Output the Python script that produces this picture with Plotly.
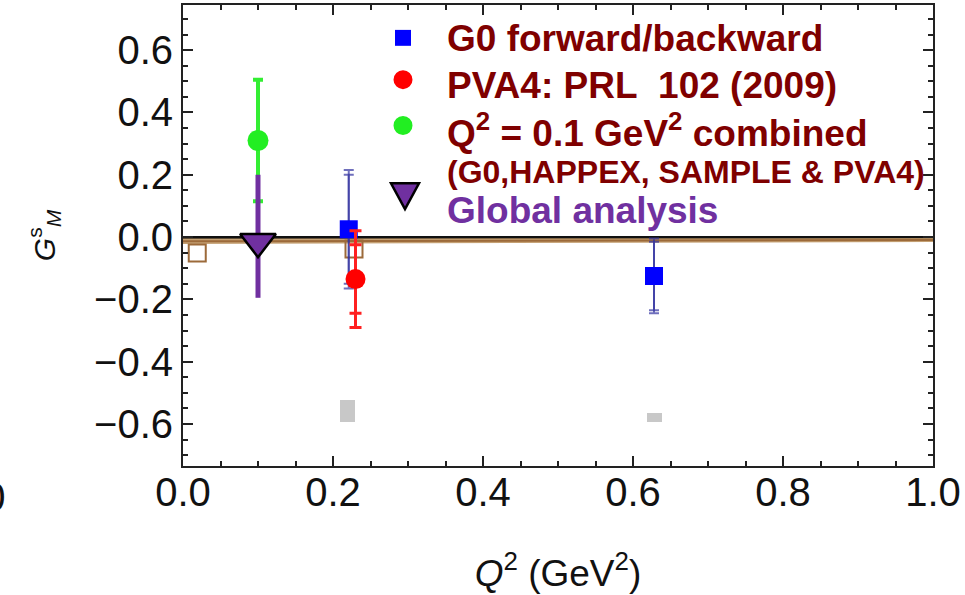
import plotly.graph_objects as go

# ---------------- data ----------------
g0_q2 = [0.221, 0.628]
g0_gms = [0.025, -0.125]
g0_stat = [0.175, 0.11]
g0_tot = [0.19, 0.12]

a4_q2 = [0.23]
a4_gms = [-0.135]
a4_stat = [0.11]
a4_tot = [0.155]

comb_q2 = [0.1]
comb_gms = [0.31]
comb_err = [0.195]

glob_q2 = [0.1]
glob_gms = [-0.015]
glob_err_plus = [0.215]
glob_err_minus = [0.18]

theo_q2 = [0.019, 0.228]
theo_gms = [-0.051, -0.038]

band_q2 = [0.0, 1.0]
band_lo = [-0.022, -0.016]
band_hi = [-0.005, -0.003]

sys_q2 = [0.219, 0.629]
sys_base = [-0.594, -0.594]
sys_height = [0.07, 0.028]

xticks = [0.0, 0.2, 0.4, 0.6, 0.8, 1.0]
yticks = [-0.6, -0.4, -0.2, 0.0, 0.2, 0.4, 0.6]

legend_labels = ["G0 forward/backward", "PVA4: PRL\u00a0\u00a0102 (2009)",
                 "Q<sup>2</sup> = 0.1 GeV<sup>2</sup> combined",
                 "(G0,HAPPEX, SAMPLE &amp; PVA4)", "Global analysis"]

# ---------------- layout geometry ----------------
W, H = 965, 595
L, R, T, B = 183, 32, 3, 129
PW, PH = W - L - R, H - T - B


def px(x):
    return (x - L) / PW


def py(y):
    return (H - B - y) / PH


FONT = "Liberation Sans, Arial, sans-serif"
MAROON = "#7f0000"
PURPLE = "#7030a0"
BROWN = "#9c6a3a"

fig = go.Figure()

# systematic error bars (gray)
fig.add_trace(go.Bar(x=sys_q2, y=sys_height, base=sys_base, width=0.02,
                     marker=dict(color="#c8c8c8", line=dict(width=0)),
                     showlegend=False))

# brown theory band
fig.add_trace(go.Scatter(x=band_q2, y=band_lo, mode="lines",
                         line=dict(color="rgba(190,150,100,0.9)", width=0),
                         showlegend=False))
fig.add_trace(go.Scatter(x=band_q2, y=band_hi, mode="lines", fill="tonexty",
                         fillcolor="rgba(190,150,100,0.9)",
                         line=dict(color="rgba(190,150,100,0.9)", width=0),
                         showlegend=False))
fig.add_trace(go.Scatter(x=band_q2, y=[(a + b) / 2 for a, b in zip(band_lo, band_hi)],
                         mode="lines", line=dict(color=BROWN, width=2),
                         showlegend=False))

# theory open squares
fig.add_trace(go.Scatter(x=theo_q2, y=theo_gms, mode="markers",
                         marker=dict(symbol="square-open", size=17,
                                     color=BROWN, line=dict(width=2, color=BROWN)),
                         showlegend=False))

# G0 forward/backward (blue)
fig.add_trace(go.Scatter(x=g0_q2, y=g0_gms, mode="markers",
                         marker=dict(size=0.1, color="rgba(0,0,0,0)"),
                         error_y=dict(type="data", array=g0_tot, color="rgba(50,50,160,0.7)",
                                      thickness=2, width=5),
                         showlegend=False))
fig.add_trace(go.Scatter(x=g0_q2, y=g0_gms, mode="markers",
                         marker=dict(symbol="square", size=18, color="#0000ff"),
                         error_y=dict(type="data", array=g0_stat, color="rgba(50,50,160,0.7)",
                                      thickness=2, width=5),
                         showlegend=False))

# PVA4 (red)
fig.add_trace(go.Scatter(x=a4_q2, y=a4_gms, mode="markers",
                         marker=dict(size=0.1, color="rgba(0,0,0,0)"),
                         error_y=dict(type="data", array=a4_tot, color="#ff2020",
                                      thickness=3, width=6),
                         showlegend=False))
fig.add_trace(go.Scatter(x=a4_q2, y=a4_gms, mode="markers",
                         marker=dict(symbol="circle", size=20, color="#ff0000"),
                         error_y=dict(type="data", array=a4_stat, color="#ff2020",
                                      thickness=3, width=6),
                         showlegend=False))

# combined (green)
fig.add_trace(go.Scatter(x=comb_q2, y=comb_gms, mode="markers",
                         marker=dict(symbol="circle", size=21, color="#22ee22"),
                         error_y=dict(type="data", array=comb_err, color="#33ee33",
                                      thickness=4, width=5),
                         showlegend=False))

# global analysis (purple)
fig.add_trace(go.Scatter(x=glob_q2, y=glob_gms, mode="markers",
                         marker=dict(symbol="triangle-down", size=31, color=PURPLE,
                                     line=dict(color="black", width=2.5)),
                         error_y=dict(type="data", symmetric=False, array=glob_err_plus,
                                      arrayminus=glob_err_minus, color=PURPLE,
                                      thickness=5, width=0),
                         showlegend=False))

# ---------------- legend (hand-built) ----------------
leg_y = [37, 84, 129, 171, 209]
leg_sizes = [37, 37, 37, 32, 37]
leg_colors = [MAROON, MAROON, MAROON, MAROON, PURPLE]
annotations = []
for lab, yy, fs, col in zip(legend_labels, leg_y, leg_sizes, leg_colors):
    annotations.append(dict(text="<b>" + lab + "</b>", xref="paper", yref="paper",
                            x=px(445), y=py(yy), xanchor="left", yanchor="middle",
                            showarrow=False, font=dict(family=FONT, size=fs, color=col)))

shapes = [
    dict(type="rect", xref="paper", yref="paper", x0=px(395), x1=px(411),
         y0=py(44), y1=py(28), fillcolor="#0000ff", line=dict(width=0), layer="above"),
    dict(type="circle", xref="paper", yref="paper", x0=px(393.5), x1=px(412.5),
         y0=py(87.5), y1=py(68.5), fillcolor="#ff0000", line=dict(width=0), layer="above"),
    dict(type="circle", xref="paper", yref="paper", x0=px(393.5), x1=px(412.5),
         y0=py(133.5), y1=py(114.5), fillcolor="#22ee22", line=dict(width=0), layer="above"),
    dict(type="path", xref="paper", yref="paper",
         path="M {:.5f} {:.5f} L {:.5f} {:.5f} L {:.5f} {:.5f} Z".format(
             px(391), py(182), px(419), py(182), px(405), py(208)),
         fillcolor=PURPLE, line=dict(color="black", width=2.5), layer="above"),
]

# clipped tick label of the neighbouring panel
annotations.append(dict(text="1.0", xref="paper", yref="paper", x=px(8), y=py(497),
                        xanchor="right", yanchor="middle", showarrow=False,
                        font=dict(family=FONT, size=40, color="#111")))

axis_common = dict(showline=True, linecolor="#222", linewidth=2, mirror="ticks",
                   ticks="inside", ticklen=10, tickwidth=1.5, tickcolor="#222",
                   showgrid=False, tickfont=dict(family=FONT, size=40, color="#111"))

fig.update_layout(
    width=W, height=H,
    margin=dict(l=L, r=R, t=T, b=B),
    plot_bgcolor="white", paper_bgcolor="white",
    bargap=0,
    xaxis=dict(range=[0, 1], tickvals=xticks, ticktext=["%.1f" % v for v in xticks],
               minor=dict(dtick=0.05, ticks="inside", ticklen=5, tickcolor="#222"),
               zeroline=False, ticklabelstandoff=-10,
               title=dict(text="<i>Q</i><sup>2</sup> (GeV<sup>2</sup>)",
                          font=dict(family=FONT, size=37, color="#111"), standoff=47),
               **axis_common),
    yaxis=dict(range=[-0.735, 0.745], tickvals=yticks,
               ticktext=[("\u2212%.1f" % -v) if v < 0 else "%.1f" % v for v in yticks],
               minor=dict(dtick=0.05, ticks="inside", ticklen=5, tickcolor="#222"),
               zeroline=True, zerolinecolor="#111", zerolinewidth=2.5,
               title=dict(text="<i>G</i><sup>s</sup><sub><i>M</i></sub>",
                          font=dict(family=FONT, size=30, color="#111"), standoff=30),
               **axis_common),
    annotations=annotations,
    shapes=shapes,
    showlegend=False,
)

fig.write_html("out.html", config={"displayModeBar": False},
               post_script="document.body.style.margin='0';document.body.style.overflow='hidden';")
